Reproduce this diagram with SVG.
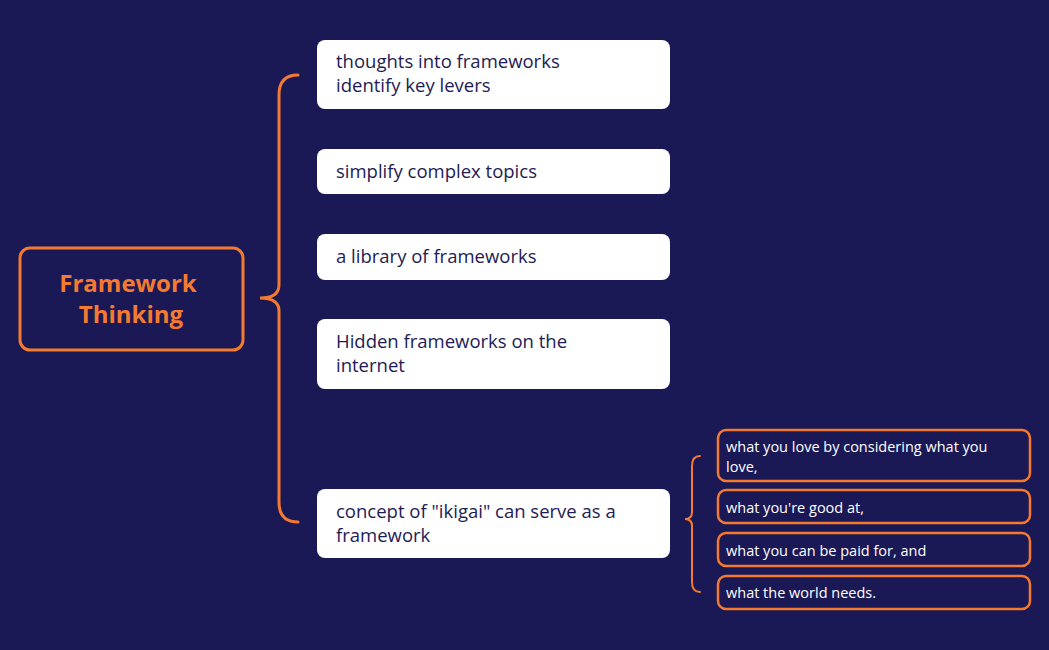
<svg xmlns="http://www.w3.org/2000/svg" width="1049" height="650" viewBox="0 0 1049 650">
<style>
.w{fill:#fff}
.t{font-family:"Open Sans","Lato",sans-serif;font-size:18.5px;fill:#1e1b55}
.s{font-family:"Open Sans","Lato",sans-serif;font-size:14.5px;fill:#fff}
.o{fill:#1b1856;stroke:#f47a30;stroke-width:2.5}
.b{fill:none;stroke:#f47a30;stroke-width:3;stroke-linecap:round}
</style>
<rect width="1049" height="650" fill="#1b1856"/>
<g id="connectors">
<path class="b" d="M298,75 Q279,75 279,95 L279,285 Q279,298 260,298 Q279,298 279,311 L279,502 Q279,522 298,522"/>
<path class="b" style="stroke-width:2" d="M700,456 Q692,456 692,466 L692,512 Q692,519 685,519 Q692,519 692,526 L692,582 Q692,592 700,592"/>
</g>
<g id="root"><rect x="20" y="248" width="223" height="102" rx="10" fill="#1b1856" stroke="#f47a30" stroke-width="3"/>
<text x="128" y="292" text-anchor="middle" font-family="'Open Sans',sans-serif" font-weight="bold" font-size="24" fill="#f47a30">Framework</text>
<text x="131" y="323" text-anchor="middle" font-family="'Open Sans',sans-serif" font-weight="bold" font-size="24" fill="#f47a30">Thinking</text></g>
<g id="n1"><rect class="w" x="317" y="40" width="353" height="69" rx="8"/><text class="t" x="336" y="68">thoughts into frameworks</text><text class="t" x="336" y="92">identify key levers</text></g>
<g id="n2"><rect class="w" x="317" y="149" width="353" height="45" rx="8"/><text class="t" x="336" y="178">simplify complex topics</text></g>
<g id="n3"><rect class="w" x="317" y="234" width="353" height="46" rx="8"/><text class="t" x="336" y="263">a library of frameworks</text></g>
<g id="n4"><rect class="w" x="317" y="319" width="353" height="70" rx="8"/><text class="t" x="336" y="348">Hidden frameworks on the</text><text class="t" x="336" y="372">internet</text></g>
<g id="n5"><rect class="w" x="317" y="489" width="353" height="69" rx="8"/><text class="t" x="336" y="518">concept of "ikigai" can serve as a</text><text class="t" x="336" y="542">framework</text></g>
<g id="s1"><rect class="o" x="718" y="430" width="312" height="51" rx="8"/><text class="s" x="726" y="452">what you love by considering what you</text><text class="s" x="726" y="472">love,</text></g>
<g id="s2"><rect class="o" x="718" y="490" width="312" height="33" rx="8"/><text class="s" x="726" y="513">what you're good at,</text></g>
<g id="s3"><rect class="o" x="718" y="533" width="312" height="33" rx="8"/><text class="s" x="726" y="556">what you can be paid for, and</text></g>
<g id="s4"><rect class="o" x="718" y="576" width="312" height="33" rx="8"/><text class="s" x="726" y="598">what the world needs.</text></g>
</svg>
